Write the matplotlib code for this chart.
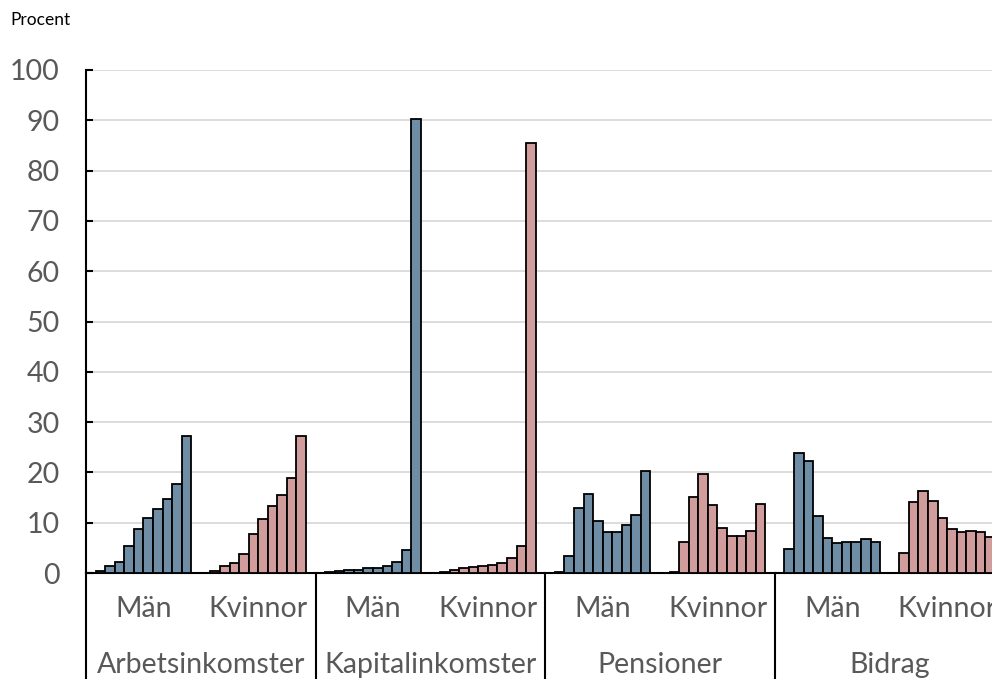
import matplotlib
matplotlib.use("Agg")
import matplotlib.pyplot as plt
from matplotlib.transforms import blended_transform_factory
import numpy as np

plt.rcParams['font.family'] = ['Lato', 'DejaVu Sans']

groups = ["Arbetsinkomster", "Kapitalinkomster", "Pensioner", "Bidrag"]
subgroups = ["Män", "Kvinnor"]

arbets_man = [0.4, 1.4, 2.2, 5.4, 8.7, 11.0, 12.7, 14.7, 17.7, 27.2]
arbets_kvinnor = [0.3, 1.4, 2.0, 3.7, 7.7, 10.7, 13.3, 15.5, 18.9, 27.2]
kapital_man = [0.1, 0.3, 0.5, 0.6, 0.9, 0.9, 1.4, 2.2, 4.5, 90.3]
kapital_kvinnor = [0.1, 0.6, 0.9, 1.1, 1.3, 1.6, 2.0, 3.0, 5.4, 85.5]
pension_man = [0.2, 3.4, 13.0, 15.7, 10.3, 8.1, 8.1, 9.5, 11.5, 20.3]
pension_kvinnor = [0.2, 6.2, 15.2, 19.6, 13.5, 8.9, 7.4, 7.4, 8.4, 13.7]
bidrag_man = [4.7, 23.9, 22.3, 11.3, 7.0, 5.9, 6.2, 6.2, 6.7, 6.2]
bidrag_kvinnor = [3.9, 14.1, 16.3, 14.3, 11.0, 8.7, 8.1, 8.4, 8.2, 7.2]

series_man = [arbets_man, kapital_man, pension_man, bidrag_man]
series_kvinnor = [arbets_kvinnor, kapital_kvinnor, pension_kvinnor, bidrag_kvinnor]
yticks = [0, 10, 20, 30, 40, 50, 60, 70, 80, 90, 100]

color_man = "#6F8DA5"
color_kvinnor = "#D09C9C"
text_gray = "#595959"
fs = 20.5

W, H = 992, 679
fig = plt.figure(figsize=(W / 100, H / 100), dpi=100)
left = 86 / W
right = 1004.5 / W
bottom = 1 - 573 / H
top = 1 - 70 / H
ax = fig.add_axes([left, bottom, right - left, top - bottom])

slots = 24
for g, (vm, vk) in enumerate(zip(series_man, series_kvinnor)):
    base = g * slots
    xm = base + 1 + np.arange(len(vm)) + 0.5
    xk = base + 13 + np.arange(len(vk)) + 0.5
    ax.bar(xm, vm, width=1.0, color=color_man, edgecolor="black", linewidth=1.3, zorder=3)
    ax.bar(xk, vk, width=1.0, color=color_kvinnor, edgecolor="black", linewidth=1.3, zorder=3)

ax.set_xlim(0, slots * len(groups))
ax.set_ylim(0, 100)
ax.set_yticks(yticks)
ax.set_yticklabels([str(t) for t in yticks])
ax.set_xticks([])
ax.tick_params(axis='y', direction='in', length=5, width=1.5, color='black',
               labelsize=fs, labelcolor=text_gray, pad=19)
ax.grid(axis='y', color="#d9d9d9", linewidth=1.3, zorder=0)
ax.set_axisbelow(True)
for s in ["top", "right"]:
    ax.spines[s].set_visible(False)
ax.spines["left"].set_linewidth(1.5)
ax.spines["bottom"].set_linewidth(1.5)

# category axis labels
trans = blended_transform_factory(ax.transData, fig.transFigure)
y_sub = 1 - 609 / H
y_grp = 1 - 665 / H
for g, name in enumerate(groups):
    base = g * slots
    ax.text(base + 6, y_sub, subgroups[0], transform=trans, ha='center', va='center',
            fontsize=fs, color=text_gray, clip_on=False)
    ax.text(base + 18, y_sub, subgroups[1], transform=trans, ha='center', va='center',
            fontsize=fs, color=text_gray, clip_on=False)
    ax.text(base + 12, y_grp, name, transform=trans, ha='center', va='center',
            fontsize=fs, color=text_gray, clip_on=False)
for g in range(len(groups) + 1):
    ax.plot([g * slots, g * slots], [bottom, 0], transform=trans, color='black',
            linewidth=1.5, clip_on=False)

fig.text(10 / W, 1 - 20 / H, "Procent", ha='left', va='center', fontsize=12.5, color='black')

fig.savefig("out.png", dpi=100)
